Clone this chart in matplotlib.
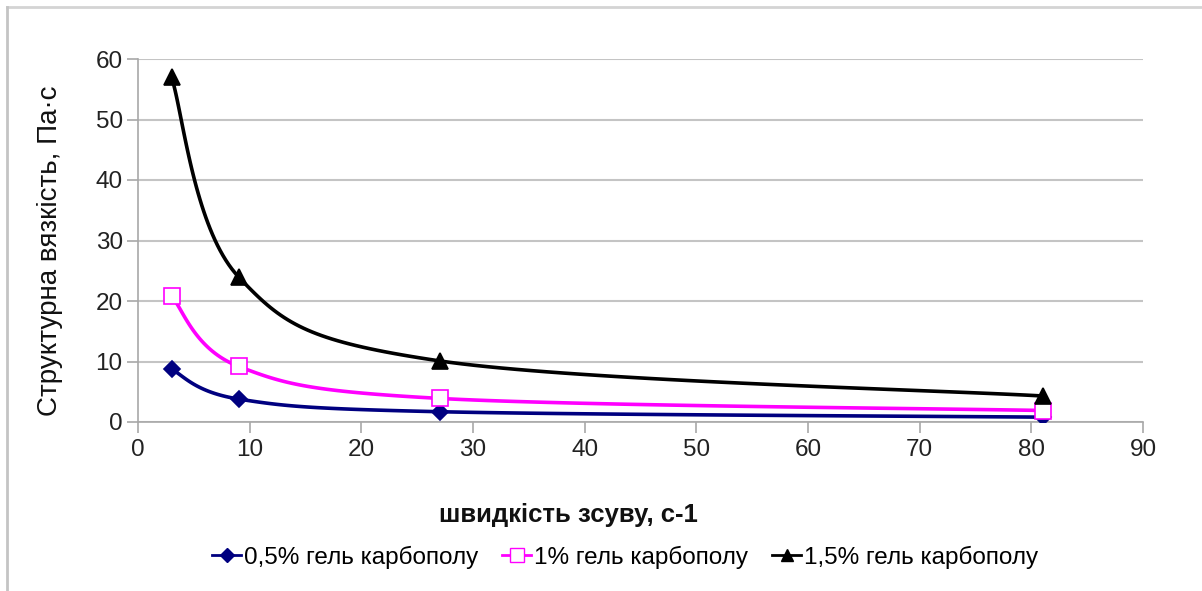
import numpy as np
import matplotlib
matplotlib.use("Agg")
import matplotlib.pyplot as plt
from matplotlib.lines import Line2D

plt.rcParams['font.family'] = ['Liberation Sans', 'DejaVu Sans']

# shear rate, 1/s
shear_rate = [3, 9, 27, 81]
# structural viscosity, Pa*s
visc_05 = [8.7, 3.8, 1.7, 0.8]
visc_10 = [20.8, 9.2, 3.9, 1.9]
visc_15 = [57.0, 24.0, 10.1, 4.3]

series_labels = ["0,5% гель карбополу", "1% гель карбополу", "1,5% гель карбополу"]
x_ticks = [0, 10, 20, 30, 40, 50, 60, 70, 80, 90]
y_ticks = [0, 10, 20, 30, 40, 50, 60]


def smooth_line(x, y, n=40):
    """Excel-style smoothed line: Catmull-Rom segments drawn as cubic Bezier."""
    pts = np.column_stack([x, y]).astype(float)
    out = [pts[0]]
    for i in range(len(pts) - 1):
        p0 = pts[max(i - 1, 0)]
        p1 = pts[i]
        p2 = pts[i + 1]
        p3 = pts[min(i + 2, len(pts) - 1)]
        c1 = p1 + (p2 - p0) / 6
        c2 = p2 - (p3 - p1) / 6
        t = np.linspace(0, 1, n)[1:, None]
        seg = ((1 - t) ** 3) * p1 + 3 * ((1 - t) ** 2) * t * c1 \
            + 3 * (1 - t) * t ** 2 * c2 + t ** 3 * p2
        out.extend(seg)
    out = np.array(out)
    return out[:, 0], out[:, 1]


fig = plt.figure(figsize=(12.02, 5.91), dpi=100)
ax = fig.add_axes([138 / 1202, 1 - 422 / 591, (1143 - 138) / 1202, (422 - 59) / 591])

styles = [
    dict(color="#000080", marker="D", ms=8, mfc="#000080", mec="#000080"),
    dict(color="#ff00ff", marker="s", ms=12, mfc="white", mec="#ff00ff"),
    dict(color="black", marker="^", ms=11, mfc="black", mec="black"),
]
handles = []
for vals, st, lab in zip([visc_05, visc_10, visc_15], styles, series_labels):
    sx, sy = smooth_line(shear_rate, vals)
    ax.plot(sx, sy, color=st["color"], lw=2.6, zorder=3)
    ax.plot(shear_rate, vals, ls="none", marker=st["marker"], ms=st["ms"],
            mfc=st["mfc"], mec=st["mec"], mew=1.2, zorder=4)
    handles.append(Line2D([], [], color=st["color"], lw=2, marker=st["marker"],
                          ms=st["ms"], mfc=st["mfc"], mec=st["mec"], label=lab))

ax.set_xlim(0, 90)
ax.set_ylim(0, 60)
ax.set_xticks(x_ticks)
ax.set_yticks(y_ticks)
ax.grid(axis="y", color="#c4c4c4", lw=1.5)
ax.set_axisbelow(True)
for s in ["top", "right"]:
    ax.spines[s].set_visible(False)
for s in ["left", "bottom"]:
    ax.spines[s].set_color("#a8a8a8")
    ax.spines[s].set_linewidth(1.2)
ax.tick_params(axis="both", colors="#a8a8a8", labelcolor="#222222",
               labelsize=17.5, length=8, width=1.2, direction="out")
ax.tick_params(axis="y", pad=3)
ax.tick_params(axis="x", pad=4)

fig.text(50 / 1202, 1 - 251 / 591, "Структурна вязкість, Па·с", fontsize=20,
         rotation=90, ha="center", va="center", color="#111111")
fig.text(0.473, 1 - 515 / 591, "швидкість зсуву, с-1", fontsize=18.5,
         fontweight="bold", ha="center", va="center", color="#111111")

fig.legend(handles=handles, loc="center", bbox_to_anchor=(0.52, 1 - 557 / 591),
           ncol=3, frameon=False, fontsize=17.5, handlelength=1.2,
           handletextpad=0.1, columnspacing=1.0, markerscale=0.85)

# light frame around the chart
fig.add_artist(Line2D([7 / 1202, 1], [1 - 7 / 591] * 2, color="#d4d4d4", lw=2))
fig.add_artist(Line2D([7 / 1202] * 2, [0, 1 - 7 / 591], color="#c4c4c4", lw=2))

fig.savefig("out.png", dpi=100, facecolor="white")
